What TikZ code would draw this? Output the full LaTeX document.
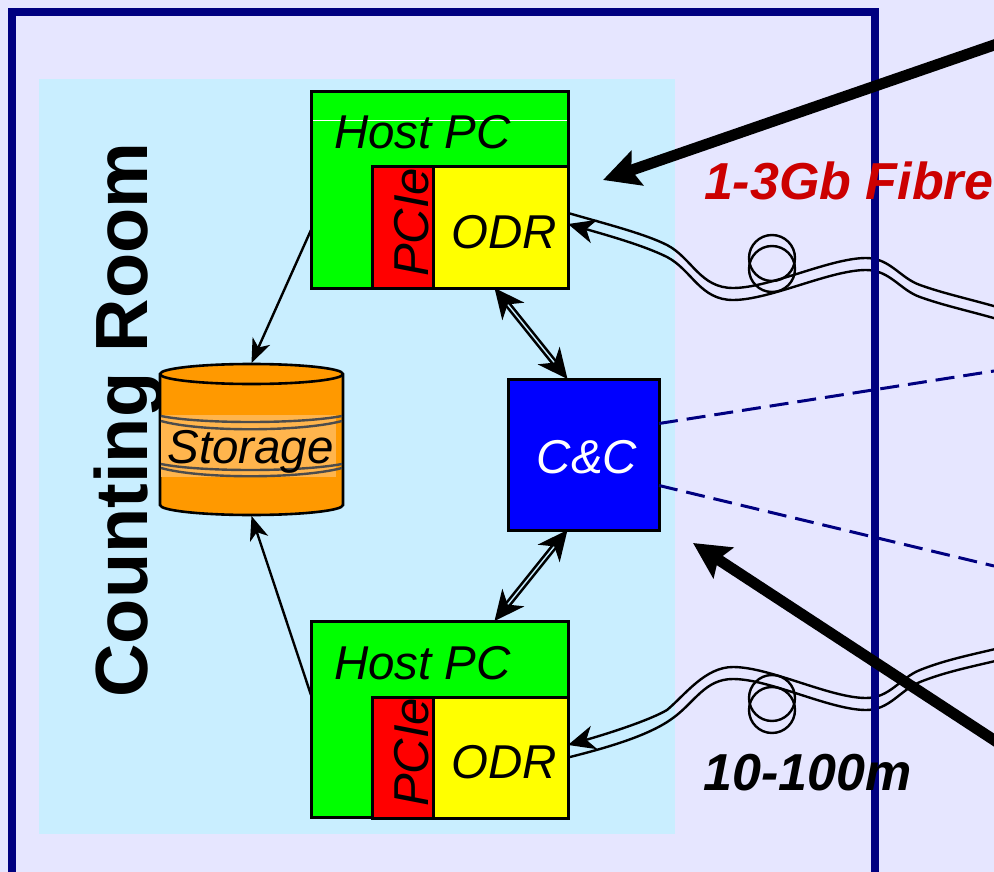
\documentclass[tikz,border=0pt]{standalone}
\usepackage{fontspec}
\setmainfont{Liberation Sans}
\usetikzlibrary{arrows.meta}
\definecolor{wall}{HTML}{E6E6FF}
\definecolor{frameblue}{HTML}{000080}
\definecolor{room}{HTML}{C9EEFF}
\definecolor{disk}{HTML}{FF9900}
\definecolor{diskband}{HTML}{FFB54D}
\definecolor{fibrered}{HTML}{CC0000}
\definecolor{hostgreen}{HTML}{00FF00}
\definecolor{pcired}{HTML}{FF0000}
\definecolor{odryellow}{HTML}{FFFF00}
\definecolor{ccblue}{HTML}{0000FF}
\tikzset{
  x=1pt,y=-1pt,
  box/.style={draw=black,line width=3pt,inner sep=0pt,outer sep=0pt,anchor=north west},
  hostbox/.style={box,fill=hostgreen,minimum width=257pt,minimum height=196pt},
  pciebox/.style={box,fill=pcired,minimum width=61pt,minimum height=121pt},
  odrbox/.style={box,fill=odryellow,minimum width=135pt,minimum height=121pt},
  ccbox/.style={box,fill=ccblue,minimum width=151pt,minimum height=151pt},
  lbl/.style={inner sep=0pt,anchor=base,font=\fontsize{47.5}{47.5}\selectfont\itshape},
  pcilbl/.style={inner sep=0pt,anchor=base,rotate=90,font=\fontsize{49}{49}\selectfont\itshape},
  big/.style={inner sep=0pt,anchor=base,font=\fontsize{52}{52}\selectfont\bfseries\itshape},
  thin arrow/.style={line width=2.4pt,-{Stealth[length=24pt,width=19pt,inset=7pt]}},
  link/.style={line width=2.6pt,double=room,double distance=1.4pt,
     {Stealth[length=30pt,width=28pt,inset=9pt]}-{Stealth[length=30pt,width=28pt,inset=9pt]}},
  fibre/.style={line width=2.4pt,black},
  coil/.style={line width=2.4pt,draw=black},
  ctrl/.style={line width=3pt,frameblue,dash pattern=on 19pt off 9pt},
  heavy/.style={line width=11pt,black,-{Stealth[length=36pt,width=36pt,inset=6pt]}},
  band/.style={line width=2.4pt,draw=black!70},
}
\begin{document}
\begin{tikzpicture}
\useasboundingbox (0,0) rectangle (994,872);
\clip (0,0) rectangle (994,872);
\fill[wall] (0,0) rectangle (994,872);
\fill[room] (39,79) rectangle (675,834);

% boxes
\node[hostbox] (hostA) at (311,92) {};
\node[pciebox] (pcieA) at (372,167) {};
\node[odrbox]  (odrA)  at (433,167) {};
\node[hostbox] (hostB) at (311,621) {};
\node[pciebox] (pcieB) at (372,697) {};
\node[odrbox]  (odrB)  at (433,697) {};
\node[ccbox]   (cc)    at (508,379) {};
\draw[white,line width=0.6pt] (313,120) -- (567,120);

% labels
\node[lbl] (hostAt) at (422.5,149) {Host PC};
\node[lbl] (hostBt) at (422.5,679) {Host PC};
\node[lbl] (odrAt) at (504,248) {ODR};
\node[lbl] (odrBt) at (504,778) {ODR};
\node[pcilbl] (pcieAt) at (428,222.5) {PCIe};
\node[pcilbl] (pcieBt) at (428,752.5) {PCIe};
\node[lbl,white] (cct) at (587,473) {C\&C};
\node[inner sep=0pt,anchor=base,rotate=90,font=\fontsize{74}{74}\selectfont\bfseries] (roomt) at (147,420) {Counting Room};

% storage cylinder
\path[fill=disk,draw=black,line width=2.6pt]
  (160,374) -- (160,505) arc[start angle=180,end angle=0,x radius=91.5,y radius=10]
  -- (343,374) arc[start angle=0,end angle=-180,x radius=91.5,y radius=10] -- cycle;
\fill[diskband] (161,415) rectangle (336,477);
\draw[line width=2.6pt] (160,374) arc[start angle=180,end angle=0,x radius=91.5,y radius=10];
\draw[band] (161,416) .. controls (200,424) and (300,424) .. (342,416);
\draw[band] (161,421) .. controls (200,432) and (300,432) .. (342,421);
\draw[band] (161,464) .. controls (200,472) and (300,472) .. (342,464);
\draw[band] (161,468) .. controls (200,479) and (300,479) .. (342,468);
\node[lbl] (storaget) at (250.5,463) {Storage};
\node[minimum width=183pt,minimum height=151pt,inner sep=0pt,outer sep=0pt] (storage) at (251.5,439.5) {};

% connectors
\draw[thin arrow] ([yshift=-40pt]hostA.west) -- ([yshift=1pt]storage.north);
\draw[thin arrow] ([yshift=24pt]hostB.west) -- ([yshift=-1pt]storage.south);
\draw[link] ([xshift=55pt]hostA.south) -- ([xshift=-16pt]cc.north);
\draw[link] ([xshift=55pt]hostB.north) -- ([xshift=-16pt]cc.south);

% control lines
\coordinate (ctrlA) at (994,371);
\coordinate (ctrlB) at (994,566);
\draw[ctrl] ([yshift=31pt]cc.east) -- (ctrlA);
\draw[ctrl] ([yshift=-31pt]cc.east) -- (ctrlB);

% fibres
\coordinate (fibA) at (1004,309);
\coordinate (fibAl) at (1004,321);
\coordinate (fibB) at (1004,647);
\coordinate (fibBl) at (1004,659);
\draw[fibre] ([yshift=14.5pt]odrA.east) .. controls (610,225) and (645,234) .. (667,245)
  .. controls (692,258) and (700,288) .. (733,288)
  .. controls (770,288) and (830,258) .. (866,258)
  .. controls (890,258) and (900,278) .. (920,285)
  .. controls (945,294) and (970,299) .. (fibA);
\draw[fibre,-{Stealth[length=27pt,width=24pt,inset=8pt]}] (fibAl)
  .. controls (970,311) and (945,306) .. (920,297)
  .. controls (900,290) and (890,270) .. (866,270)
  .. controls (830,270) and (770,300) .. (733,300)
  .. controls (700,300) and (692,270) .. (667,257)
  .. controls (645,246) and (610,236) .. ([yshift=3.5pt]odrA.east);
\draw[fibre] ([yshift=0pt]odrB.east) .. controls (610,747) and (650,735) .. (673,718)
  .. controls (695,702) and (705,679) .. (733,679)
  .. controls (770,679) and (830,710) .. (866,710)
  .. controls (890,710) and (900,690) .. (920,682)
  .. controls (945,672) and (970,667) .. (fibBl);
\draw[fibre,-{Stealth[length=27pt,width=24pt,inset=8pt]}] (fibB)
  .. controls (970,655) and (945,660) .. (920,670)
  .. controls (900,678) and (890,698) .. (866,698)
  .. controls (830,698) and (770,667) .. (733,667)
  .. controls (705,667) and (685,695) .. (667,710)
  .. controls (650,720) and (610,733) .. ([yshift=12.5pt]odrB.east);

% fibre coils
\draw[coil] (772,258) circle[radius=23];
\draw[coil] (772,269) circle[radius=23];
\draw[coil] (772,698) circle[radius=23];
\draw[coil] (772,710) circle[radius=23];

% outer frame
\draw[frameblue,line width=8pt] (12,900) -- (12,12) -- (875,12) -- (875,900);

% free texts
\node[big,fibrered] (fibret) at (848.5,200) {1-3Gb Fibre};
\node[big] (lengtht) at (807.5,790) {10-100m};

% heavy arrows
\coordinate (heavyA) at (1010,39.5);
\coordinate (heavyAtip) at (603,180);
\coordinate (heavyB) at (1010,750.5);
\coordinate (heavyBtip) at (693,543);
\draw[heavy] (heavyA) -- (heavyAtip);
\draw[heavy] (heavyB) -- (heavyBtip);
\end{tikzpicture}
\end{document}
